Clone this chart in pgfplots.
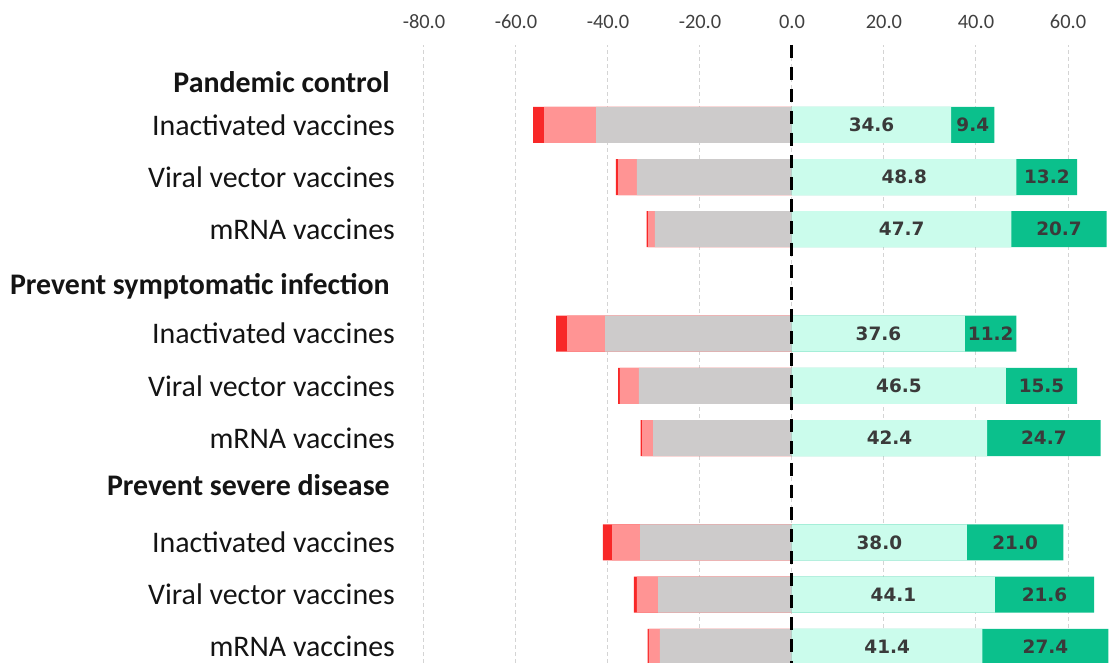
\documentclass[border=0pt]{standalone}
\usepackage{pgfplots}
\pgfplotsset{compat=1.18}
\usepackage{pgfplotstable}
\usepackage{fontspec}
\setmainfont{Carlito}
\newfontfamily\valfont{DejaVu Sans}
\definecolor{cgray}{HTML}{CDCBCB}
\definecolor{clred}{HTML}{FF9494}
\definecolor{cdred}{HTML}{F82828}
\definecolor{cmint}{HTML}{CBFCEC}
\definecolor{cgreen}{HTML}{0BC08C}
\definecolor{valc}{HTML}{3A3A3A}
\definecolor{tickc}{HTML}{404040}
\definecolor{gridc}{HTML}{D4D4D4}

\pgfplotstableread{
y g lr dr a b
1 42.6 11.3 2.4 34.6 9.4
2 33.7 4.1 0.5 48.8 13.2
3 29.8 1.5 0.3 47.7 20.7
5 40.6 8.3 2.4 37.6 11.2
6 33.3 4.1 0.4 46.5 15.5
7 30.2 2.4 0.3 42.4 24.7
9 33.0 6.1 2.0 38.0 21.0
10 29.1 4.6 0.7 44.1 21.6
11 28.7 2.4 0.3 41.4 27.4
}\datatable

\begin{document}
\begin{tikzpicture}
\begin{axis}[name=ax, scale only axis, width=685.4bp, height=618bp,
  xmin=-80, xmax=69, ymin=-11.31, ymax=0.53,
  axis line style={draw=none}, major tick length=0pt,
  xtick={-80,-60,-40,-20,0,20,40,60}, xticklabel pos=upper,
  xticklabel style={font=\fontsize{20.5}{24}\selectfont, text=tickc, anchor=center, yshift=23bp,
    /pgf/number format/.cd, fixed, fixed zerofill, precision=1, assume math mode=true},
  xmajorgrids=true,
  major x grid style={gridc, line width=1bp, dash pattern=on 4bp off 3bp},
  ytick={-11,-10,-9,-7.9,-7,-6,-5,-4.1,-3,-2,-1,-0.18},
  yticklabels={mRNA vaccines, Viral vector vaccines, Inactivated vaccines,
    {\textbf{Prevent severe disease}\hspace*{5bp}},
    mRNA vaccines, Viral vector vaccines, Inactivated vaccines,
    {\textbf{Prevent symptomatic infection}\hspace*{5bp}},
    mRNA vaccines, Viral vector vaccines, Inactivated vaccines,
    {\textbf{Pandemic control}\hspace*{5bp}}},
  yticklabel style={font=\fontsize{30}{34}\selectfont, anchor=east, inner sep=0pt, xshift=-29bp, text=black!92},
]
% left side (drawn longest first)
\addplot[xbar, bar width=36bp, bar shift=0pt, fill=cdred, draw=none]
  table[x expr=-\thisrow{g}-\thisrow{lr}-\thisrow{dr}, y expr=-\thisrow{y}]{\datatable};
\addplot[xbar, bar width=36bp, bar shift=0pt, fill=clred, draw=none]
  table[x expr=-\thisrow{g}-\thisrow{lr}, y expr=-\thisrow{y}]{\datatable};
\addplot[xbar, bar width=36bp, bar shift=0pt, fill=cgray, draw=none]
  table[x expr=-\thisrow{g}, y expr=-\thisrow{y}]{\datatable};
% right side
\addplot[xbar, bar width=36bp, bar shift=0pt, fill=cgreen, draw=none]
  table[x expr=\thisrow{a}+\thisrow{b}, y expr=-\thisrow{y}]{\datatable};
\addplot[xbar, bar width=36bp, bar shift=0pt, fill=cmint, draw=none]
  table[x expr=\thisrow{a}, y expr=-\thisrow{y}]{\datatable};
% value labels
\addplot[only marks, mark=*, mark size=0pt, mark options={draw=none, fill=none},
  nodes near coords, point meta=explicit symbolic,
  nodes near coords style={anchor=center, inner sep=0pt, text=valc, font=\valfont\bfseries\fontsize{18.5}{21}\selectfont}]
  table[x expr=\thisrow{a}/2, y expr=-\thisrow{y}, meta=a]{\datatable};
\addplot[only marks, mark=*, mark size=0pt, mark options={draw=none, fill=none},
  nodes near coords, point meta=explicit symbolic,
  nodes near coords style={anchor=center, inner sep=0pt, text=valc, font=\valfont\bfseries\fontsize{18.5}{21}\selectfont}]
  table[x expr=\thisrow{a}+\thisrow{b}/2, y expr=-\thisrow{y}, meta=b]{\datatable};
% zero line
\addplot[black, line width=3bp, dash pattern=on 13bp off 9bp, forget plot]
  coordinates {(0,0.53) (0,-11.31)};
\end{axis}
\pgfresetboundingbox
\path ([xshift=-424bp]ax.south west) rectangle ([xshift=0.6bp, yshift=45bp]ax.north east);
\end{tikzpicture}
\end{document}
